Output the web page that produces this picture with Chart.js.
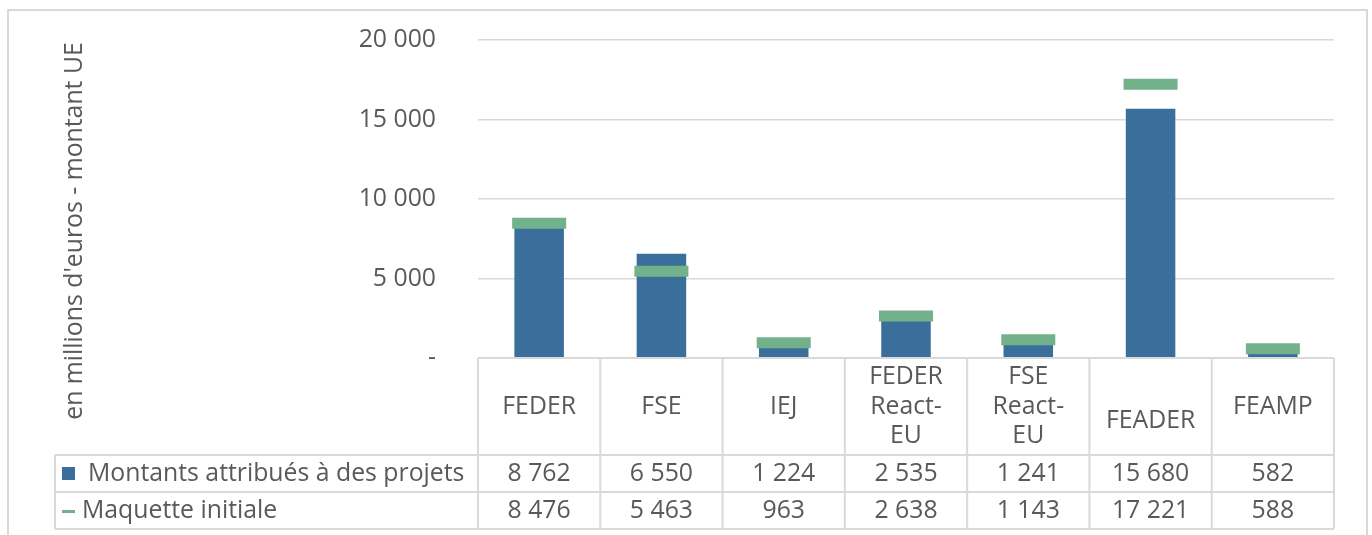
<!DOCTYPE html>
<html lang="fr">
<head>
<meta charset="utf-8">
<script src="https://cdn.jsdelivr.net/npm/chart.js@4/dist/chart.umd.min.js"></script>
<style>
  html, body { margin: 0; padding: 0; background: #fff; }
  #wrap { width: 1372px; height: 535px; position: relative; }
</style>
</head>
<body>
<div id="wrap"><canvas id="c1"></canvas></div>
<script>
// =========================
// DATA
// =========================
const categories = [["FEDER"], ["FSE"], ["IEJ"], ["FEDER", "React-", "EU"], ["FSE", "React-", "EU"], ["", "FEADER"], ["FEAMP"]];
const montants = [8762, 6550, 1224, 2535, 1241, 15680, 582];
const maquette = [8476, 5463, 963, 2638, 1143, 17221, 588];
const serieNames = ["Montants attribués à des projets", "Maquette initiale"];
const yTicks = [0, 5000, 10000, 15000, 20000];
const yTitle = "en millions d'euros - montant UE";

const BLUE = "#3a6f9c";
const GREEN = "#72b18a";
const GRID = "#d9d9d9";
const TXT = "#595959";
const FONT = "'Open Sans', sans-serif";
const FS = 24.8;

// =========================
// FORMATADOR
// =========================
function fmt(v){
    if(v === 0) return "-";
    return String(v).replace(/\B(?=(\d{3})+(?!\d))/g, " ");
}

// =========================
// FRAME + Y TITLE + TABLE
// =========================
const tablePlugin = {
    id: "tablePlugin",
    beforeDraw(chart){
        const ctx = chart.ctx;
        ctx.save();
        ctx.strokeStyle = GRID;
        ctx.lineWidth = 2;
        ctx.strokeRect(8, 10, 1359, 600);

        // y title
        ctx.translate(75, 231);
        ctx.rotate(-Math.PI / 2);
        ctx.fillStyle = TXT;
        ctx.font = FS + "px " + FONT;
        ctx.textAlign = "center";
        ctx.textBaseline = "middle";
        ctx.fillText(yTitle, 0, 0);
        ctx.restore();
    },
    afterDraw(chart){
        const ctx = chart.ctx;
        const x = chart.scales.x;
        const area = chart.chartArea;
        const n = categories.length;
        const colW = (area.right - area.left) / n;
        const top = area.bottom;
        const hdrB = 455, r1B = 492, r2B = 529;
        const left = 55;

        ctx.save();
        ctx.strokeStyle = GRID;
        ctx.lineWidth = 2;
        ctx.beginPath();
        // horizontal lines
        ctx.moveTo(area.left, top); ctx.lineTo(area.right, top);
        ctx.moveTo(left, hdrB); ctx.lineTo(area.right, hdrB);
        ctx.moveTo(left, r1B); ctx.lineTo(area.right, r1B);
        ctx.moveTo(left, r2B); ctx.lineTo(area.right, r2B);
        // vertical lines
        ctx.moveTo(left, hdrB); ctx.lineTo(left, r2B);
        for(let i = 0; i <= n; i++){
            const xx = area.left + i * colW;
            ctx.moveTo(xx, top); ctx.lineTo(xx, r2B);
        }
        ctx.stroke();

        ctx.fillStyle = TXT;
        ctx.font = FS + "px " + FONT;
        ctx.textAlign = "center";
        ctx.textBaseline = "middle";
        const lh = 29.5;
        categories.forEach((lines, i) => {
            const cx = x.getPixelForValue(i);
            const midY = (top + hdrB) / 2;
            const y0 = midY - (lines.length - 1) * lh / 2;
            lines.forEach((t, k) => ctx.fillText(t, cx, y0 + k * lh));
            ctx.fillText(fmt(montants[i]), cx, (hdrB + r1B) / 2);
            ctx.fillText(fmt(maquette[i]), cx, (r1B + r2B) / 2);
        });

        // legend keys
        ctx.textAlign = "left";
        ctx.fillStyle = BLUE;
        ctx.fillRect(62, 467, 13, 13);
        ctx.fillStyle = GREEN;
        ctx.fillRect(62, 510, 13, 3);
        ctx.fillStyle = TXT;
        ctx.fillText(serieNames[0], 88, (hdrB + r1B) / 2);
        ctx.fillText(serieNames[1], 82, (r1B + r2B) / 2);
        ctx.restore();
    }
};

// =========================
// CHART
// =========================
const ctx1 = document.getElementById("c1").getContext("2d");

const chart1 = new Chart(ctx1, {
    type: "bar",
    data: {
        labels: categories,
        datasets: [{
            type: "line",
            label: serieNames[1],
            data: maquette,
            showLine: false,
            pointStyle: "line",
            pointRadius: 27,
            pointHoverRadius: 27,
            pointBorderWidth: 11,
            pointHoverBorderWidth: 11,
            borderColor: GREEN,
            backgroundColor: GREEN,
            order: 0
        }, {
            label: serieNames[0],
            data: montants,
            backgroundColor: BLUE,
            barPercentage: 1,
            categoryPercentage: 0.405,
            order: 1
        }]
    },
    options: {
        responsive: true,
        maintainAspectRatio: false,
        animation: false,
        layout: {
            padding: { top: 40, right: 34, bottom: 177, left: 0 }
        },
        plugins: {
            legend: { display: false },
            tooltip: { enabled: false }
        },
        scales: {
            x: {
                display: false
            },
            y: {
                min: 0,
                max: 20000,
                afterFit(scale){ scale.width = 478; },
                afterBuildTicks(scale){ scale.ticks = yTicks.map(v => ({ value: v })); },
                border: { display: false },
                grid: { color: GRID, lineWidth: 1.5, drawTicks: true, tickLength: 42, tickColor: "rgba(0,0,0,0)" },
                ticks: {
                    padding: 0,
                    color: TXT,
                    font: { family: FONT, size: FS },
                    callback: v => fmt(v)
                }
            }
        }
    },
    plugins: [tablePlugin]
});
</script>
</body>
</html>
